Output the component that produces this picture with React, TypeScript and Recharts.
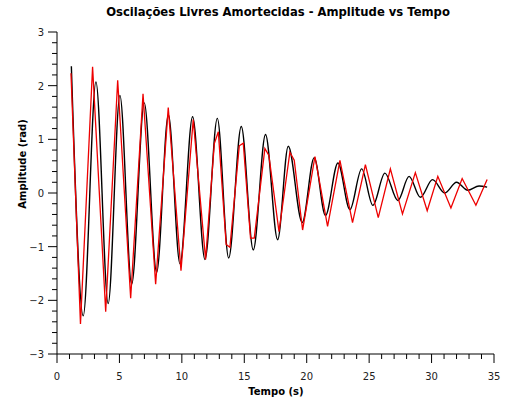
import { LineChart, Line, XAxis, YAxis } from "recharts";

// theoretical curve (black): peaks and troughs
const modelTime = [
  1.15, 2.1, 3.12, 4.1, 5.04, 5.98, 6.99, 7.98, 8.92, 9.85, 10.86, 11.85, 12.84, 13.75,
  14.76, 15.72, 16.7, 17.67, 18.52, 19.64, 20.6, 21.5, 22.5, 23.46, 24.4, 25.3, 26.26,
  27.3, 28.2, 29.1, 30.08, 31.06, 32.0, 32.9, 33.8, 34.45,
];
const modelAmp = [
  2.36, -2.29, 2.07, -2.06, 1.82, -1.7, 1.68, -1.48, 1.46, -1.32, 1.42, -1.24, 1.39, -1.21,
  1.24, -1.06, 1.09, -0.87, 0.87, -0.55, 0.66, -0.42, 0.56, -0.31, 0.45, -0.23, 0.37,
  -0.14, 0.31, -0.08, 0.25, 0.0, 0.2, 0.05, 0.13, 0.11,
];

// measured curve (red)
const measTime = [
  1.12, 1.88, 2.85, 3.9, 4.86, 5.9, 6.89, 7.9, 8.91, 9.93, 10.91, 11.9, 12.6, 12.92, 13.55,
  13.85, 14.6, 14.92, 15.5, 15.8, 16.65, 16.97, 17.78, 18.65, 19.0, 19.67, 20.66, 21.67,
  22.66, 23.67, 24.7, 25.73, 26.7, 27.67, 28.7, 29.65, 30.5, 31.55, 32.45, 33.55, 34.45,
];
const measAmp = [
  2.23, -2.44, 2.35, -2.21, 2.1, -1.96, 1.85, -1.7, 1.59, -1.45, 1.37, -1.24, 0.92, 1.14, -0.96,
  -1.01, 0.88, 0.93, -0.84, -0.84, 0.83, 0.7, -0.72, 0.76, 0.61, -0.69, 0.68, -0.62,
  0.61, -0.55, 0.53, -0.46, 0.45, -0.39, 0.38, -0.33, 0.31, -0.28, 0.27, -0.23, 0.25,
];

const xTickLabels = [0, 5, 10, 15, 20, 25, 30, 35];
const yTickLabels = [-3, -2, -1, 0, 1, 2, 3];

const modelData = modelTime.map((t, i) => ({ t, y: modelAmp[i] }));
const measData = measTime.map((t, i) => ({ t, y: measAmp[i] }));

const xTicks: number[] = [];
for (let i = 0; i <= 35; i++) xTicks.push(i);
const yTicks: number[] = [];
for (let i = -15; i <= 15; i++) yTicks.push(i / 5);

const font = "'DejaVu Sans', Verdana, sans-serif";

const XTick = (props: any) => {
  const { x, y, payload } = props;
  const major = xTickLabels.includes(payload.value);
  return (
    <g>
      <line x1={x} y1={y} x2={x} y2={y + (major ? 9 : 5)} stroke="#000" />
      {major && (
        <text x={x} y={y + 26} textAnchor="middle" fontSize={10} fontFamily={font} fill="#222">
          {payload.value}
        </text>
      )}
    </g>
  );
};

const YTick = (props: any) => {
  const { x, y, payload } = props;
  const v = Math.round(payload.value * 5) / 5;
  const major = yTickLabels.includes(v);
  return (
    <g>
      <line x1={x} y1={y} x2={x - (major ? 9 : 5)} y2={y} stroke="#000" />
      {major && (
        <text x={x - 13} y={y + 4} textAnchor="end" fontSize={10} fontFamily={font} fill="#222">
          {v < 0 ? `\u2212${-v}` : v}
        </text>
      )}
    </g>
  );
};

export default function App() {
  return (
    <div style={{ position: "absolute", left: 0, top: 0, width: 508, height: 403, background: "#fff" }}>
      <div
        style={{
          position: "absolute",
          left: 278,
          top: 12,
          transform: "translate(-50%, -50%)",
          whiteSpace: "nowrap",
          fontFamily: font,
          fontWeight: "bold",
          fontSize: 11.6,
          color: "#000",
        }}
      >
        Oscilações Livres Amortecidas - Amplitude vs Tempo
      </div>
      <div
        style={{
          position: "absolute",
          left: 22,
          top: 164,
          transform: "translate(-50%, -50%) rotate(-90deg)",
          whiteSpace: "nowrap",
          fontFamily: font,
          fontWeight: "bold",
          fontSize: 10,
          color: "#000",
        }}
      >
        Amplitude (rad)
      </div>
      <div
        style={{
          position: "absolute",
          left: 276,
          top: 391,
          transform: "translate(-50%, -50%)",
          whiteSpace: "nowrap",
          fontFamily: font,
          fontWeight: "bold",
          fontSize: 10,
          color: "#000",
        }}
      >
        Tempo (s)
      </div>
      <LineChart width={508} height={403} margin={{ top: 32, right: 14, bottom: 0, left: 17 }}>
        <XAxis
          type="number"
          dataKey="t"
          domain={[0, 35]}
          ticks={xTicks}
          interval={0}
          tickSize={0}
          tickMargin={0}
          tickLine={false}
          tick={<XTick />}
          height={49}
          stroke="#000"
          allowDataOverflow
        />
        <YAxis
          type="number"
          domain={[-3, 3]}
          ticks={yTicks}
          interval={0}
          tickSize={0}
          tickMargin={0}
          tickLine={false}
          tick={<YTick />}
          width={40}
          stroke="#000"
          allowDataOverflow
        />
        <Line
          data={modelData}
          dataKey="y"
          type="monotone"
          stroke="#000"
          strokeWidth={1.4}
          dot={false}
          isAnimationActive={false}
        />
        <Line
          data={measData}
          dataKey="y"
          type="linear"
          stroke="#ee0000"
          strokeWidth={1.3}
          dot={false}
          isAnimationActive={false}
        />
      </LineChart>
    </div>
  );
}
